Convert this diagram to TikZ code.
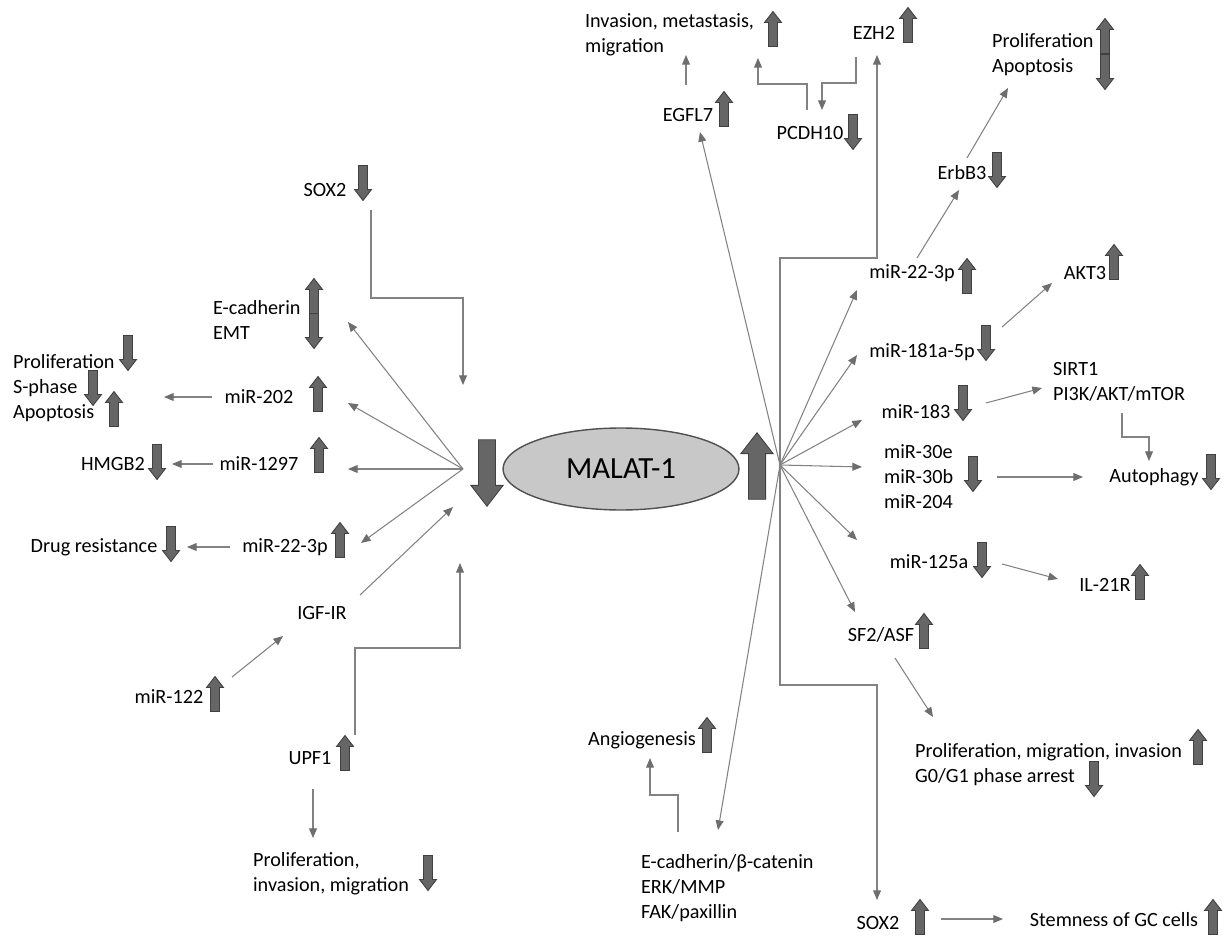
\documentclass[tikz,border=0pt]{standalone}
\usepackage{fontspec}
\setmainfont{Carlito}
\usetikzlibrary{arrows.meta,shapes.geometric}
\definecolor{conline}{RGB}{130,130,130}
\definecolor{contip}{RGB}{110,110,110}
\definecolor{arrfill}{RGB}{102,102,102}
\definecolor{arrline}{RGB}{64,64,64}
\definecolor{ellfill}{RGB}{200,200,200}
\definecolor{ellline}{RGB}{80,80,80}
\tikzset{
  lbl/.style={font=\fontsize{11.5}{14.2}\selectfont, inner sep=1pt, align=left},
  con/.style={draw=conline, line width=0.6pt, -{Triangle[length=5.5pt,width=4.5pt,color=contip]}},
  blk/.style={fill=arrfill, draw=arrline, line width=0.5pt},
  incr/.pic={\draw[blk] (-4.5,17.5) -- (-4.5,-6.5) -- (-8.5,-6.5) -- (0,-17.5) -- (8.5,-6.5) -- (4.5,-6.5) -- (4.5,17.5) -- cycle;},
  decr/.pic={\draw[blk] (-4.5,-17.5) -- (-4.5,6.5) -- (-8.5,6.5) -- (0,17.5) -- (8.5,6.5) -- (4.5,6.5) -- (4.5,-17.5) -- cycle;}
}
\begin{document}
\begin{tikzpicture}[x=0.02cm,y=-0.02cm]
\useasboundingbox (0,0) rectangle (1223,942);

\node[ellipse, draw=ellline, fill=ellfill, line width=0.8pt, minimum width=4.72cm, minimum height=1.64cm,
  font=\fontsize{17.5}{20}\selectfont] (malat) at (621,469) {MALAT-1};
\path (487,473) pic[scale=1.9] {decr};
\path (757,466) pic[scale=1.9] {incr};
\coordinate (lhub) at (463,469);
\coordinate (rhub) at (780,465);

% left side
\node[lbl] (sox2l) at (325,190) {SOX2};
\pic at (363,183) {decr};
\node[lbl, anchor=west] (ecad) at (211,320) {E-cadherin\\EMT};
\pic at (314,296) {incr};
\pic at (314,331) {decr};
\node[lbl, anchor=west] (prolS) at (11,388) {Proliferation\\S-phase\\Apoptosis};
\pic at (128,353) {decr};
\pic at (93,388) {decr};
\pic at (114,409) {incr};
\node[lbl] (m202) at (259,397) {miR-202};
\pic at (318,394) {incr};
\node[lbl] (hmgb) at (113,464) {HMGB2};
\pic at (157,462) {decr};
\node[lbl] (m1297) at (259,464) {miR-1297};
\pic at (319,455) {incr};
\node[lbl] (drug) at (94,547) {Drug resistance};
\pic at (171,544) {decr};
\node[lbl] (m22l) at (285,547) {miR-22-3p};
\pic at (340,540) {incr};
\node[lbl] (igf) at (322,613) {IGF-IR};
\node[lbl] (m122) at (169,697) {miR-122};
\pic at (215,694) {incr};
\node[lbl] (upf) at (310,758) {UPF1};
\pic at (345,753) {incr};
\node[lbl, anchor=west] (prolI) at (251,874) {Proliferation,\\invasion, migration};
\pic at (428,873) {decr};

\coordinate (sox2S) at (371,210);
\coordinate (sox2T) at (463,385);
\coordinate (ecadT) at (348,322);
\coordinate (m202T) at (348,403);
\coordinate (m1297T) at (348,469);
\coordinate (m22lT) at (361,543);
\coordinate (igfS) at (360,595);
\coordinate (igfT) at (453,507);
\coordinate (upfS) at (355,735);
\coordinate (upfT) at (460,563);
\coordinate (m202S) at (212,397);
\coordinate (prolST) at (164,397);
\coordinate (m1297S) at (213,464);
\coordinate (hmgbT) at (172,464);
\coordinate (m22lS) at (230,547);
\coordinate (drugT) at (187,547);
\coordinate (m122S) at (232,677);
\coordinate (m122T) at (283,636);
\coordinate (upfD) at (313,789);
\coordinate (prolIT) at (313,838);

\draw[con] (sox2S) -- ++(0,88) -| (sox2T);
\draw[con] (lhub) -- (ecadT);
\draw[con] (lhub) -- (m202T);
\draw[con] (lhub) -- (m1297T);
\draw[con] (lhub) -- (m22lT);
\draw[con] (igfS) -- (igfT);
\draw[con] (upfS) -- ++(0,-87) -| (upfT);
\draw[con] (m202S) -- (prolST);
\draw[con] (m1297S) -- (hmgbT);
\draw[con] (m22lS) -- (drugT);
\draw[con] (m122S) -- (m122T);
\draw[con] (upfD) -- (prolIT);

% right side
\node[lbl, anchor=west] (inv) at (583,35) {Invasion, metastasis,\\migration};
\pic at (773,29) {incr};
\node[lbl] (ezh) at (874,33) {EZH2};
\pic at (908,25) {incr};
\node[lbl] (egfl) at (688,115) {EGFL7};
\pic at (724,109) {incr};
\node[lbl] (pcdh) at (810,133) {PCDH10};
\pic at (853,132) {decr};
\node[lbl, anchor=west] (prolA) at (990,55) {Proliferation\\Apoptosis};
\pic at (1105,36) {incr};
\pic at (1105,72) {decr};
\node[lbl] (erb) at (962,173) {ErbB3};
\pic at (997,170) {decr};
\node[lbl] (m22r) at (912,273) {miR-22-3p};
\pic at (967,276) {incr};
\node[lbl] (akt) at (1085,273) {AKT3};
\pic at (1114,262) {incr};
\node[lbl] (m181) at (922,352) {miR-181a-5p};
\pic at (986,343) {decr};
\node[lbl, anchor=west] (sirt) at (1051,382) {SIRT1\\PI3K/AKT/mTOR};
\node[lbl] (m183) at (916,412) {miR-183};
\pic at (963,403) {decr};
\node[lbl, anchor=west] (m30) at (882,477) {miR-30e\\miR-30b\\miR-204};
\pic at (973,474) {decr};
\node[lbl] (autoph) at (1154,477) {Autophagy};
\pic at (1211,472) {decr};
\node[lbl] (m125) at (929,562) {miR-125a};
\pic at (982,560) {decr};
\node[lbl] (il) at (1105,585) {IL-21R};
\pic at (1140,582) {incr};
\node[lbl] (sf2) at (881,635) {SF2/ASF};
\pic at (924,631) {incr};
\node[lbl, anchor=west] (prolM) at (913,765) {Proliferation, migration, invasion\\G0/G1 phase arrest};
\pic at (1198,747) {incr};
\pic at (1094,779) {decr};
\node[lbl] (angio) at (642,740) {Angiogenesis};
\pic at (707,735) {incr};
\node[lbl, anchor=west] (ecat) at (639,888) {E-cadherin/β-catenin\\ERK/MMP\\FAK/paxillin};
\node[lbl] (sox2r) at (878,923) {SOX2};
\pic at (920,917) {incr};
\node[lbl] (stem) at (1114,920) {Stemness of GC cells};
\pic at (1213,917) {incr};

\coordinate (egflT) at (700,132);
\coordinate (ezhT) at (877,55);
\coordinate (egflS) at (686,85);
\coordinate (invT1) at (686,55);
\coordinate (pcdhS) at (807,110);
\coordinate (invT2) at (758,58);
\coordinate (ezhS) at (856,57);
\coordinate (pcdhT) at (822,110);
\coordinate (m22rT) at (857,290);
\coordinate (m22rS) at (917,258);
\coordinate (erbT) at (959,190);
\coordinate (erbS) at (967,158);
\coordinate (prolAT) at (1008,88);
\coordinate (m181T) at (857,355);
\coordinate (m181S) at (1002,327);
\coordinate (aktT) at (1052,283);
\coordinate (m183T) at (862,420);
\coordinate (m183S) at (986,403);
\coordinate (sirtT) at (1042,388);
\coordinate (sirtS) at (1122,413);
\coordinate (autoT1) at (1149,461);
\coordinate (m30T) at (862,467);
\coordinate (m30S) at (997,477);
\coordinate (autoT2) at (1083,477);
\coordinate (m125T) at (857,540);
\coordinate (m125S) at (1002,564);
\coordinate (ilT) at (1058,579);
\coordinate (sf2T) at (855,612);
\coordinate (sf2S) at (895,658);
\coordinate (prolMT) at (933,717);
\coordinate (ecatT) at (718,830);
\coordinate (ecatS) at (678,832);
\coordinate (angioT) at (650,758);
\coordinate (sox2rT) at (877,900);
\coordinate (sox2rS) at (941,919);
\coordinate (stemT) at (1003,919);

\draw[con] (rhub) -- (egflT);
\draw[con] (rhub) -- ++(0,-207) -| (ezhT);
\draw[con] (egflS) -- (invT1);
\draw[con] (pcdhS) -- ++(0,-26) -| (invT2);
\draw[con] (ezhS) -- ++(0,26) -| (pcdhT);
\draw[con] (rhub) -- (m22rT);
\draw[con] (m22rS) -- (erbT);
\draw[con] (erbS) -- (prolAT);
\draw[con] (rhub) -- (m181T);
\draw[con] (m181S) -- (aktT);
\draw[con] (rhub) -- (m183T);
\draw[con] (m183S) -- (sirtT);
\draw[con] (sirtS) -- ++(0,24) -| (autoT1);
\draw[con] (rhub) -- (m30T);
\draw[con] (m30S) -- (autoT2);
\draw[con] (rhub) -- (m125T);
\draw[con] (m125S) -- (ilT);
\draw[con] (rhub) -- (sf2T);
\draw[con] (sf2S) -- (prolMT);
\draw[con] (rhub) -- (ecatT);
\draw[con] (ecatS) -- ++(0,-37) -| (angioT);
\draw[con] (rhub) -- ++(0,220) -| (sox2rT);
\draw[con] (sox2rS) -- (stemT);
\end{tikzpicture}
\end{document}
